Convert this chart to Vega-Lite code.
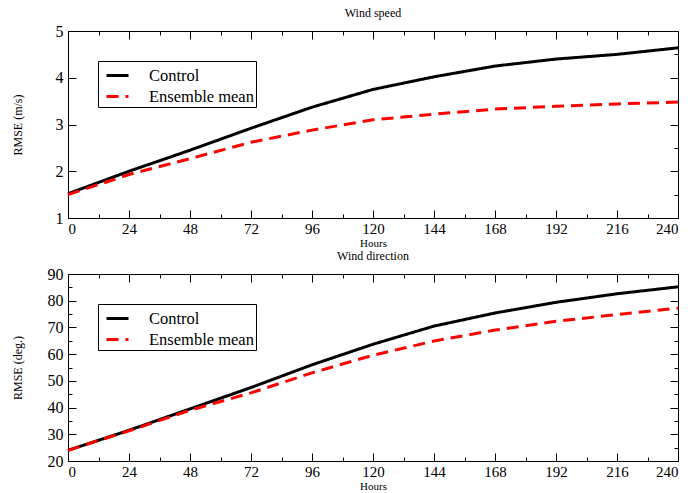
{
  "$schema": "https://vega.github.io/schema/vega-lite/v6.json",
  "autosize": {"type": "pad"},
  "padding": {"left": 10, "top": 6, "right": 0, "bottom": 2},
  "background": "white",
  "spacing": 56,
  "bounds": "flush",
  "config": {
    "font": "Liberation Serif",
    "view": {"stroke": "black", "strokeWidth": 1},
    "title": {"fontSize": 12, "fontWeight": "normal", "font": "Liberation Serif", "color": "black", "offset": 3},
    "axis": {
      "domain": false, "grid": false,
      "labelFont": "Liberation Serif", "labelFontSize": 16, "labelColor": "black",
      "titleFont": "Liberation Serif", "titleFontSize": 12, "titleFontWeight": "normal", "titleColor": "black",
      "tickColor": "black", "tickWidth": 1
    },
    "axisX": {"labelFontSize": 15, "titleFontSize": 11},
    "legend": {"labelFont": "Liberation Serif", "labelFontSize": 16.5, "labelColor": "black"}
  },
  "datasets": {
    "speed": [
      {"hours": 0, "series": "Control", "rmse": 1.52},
      {"hours": 24, "series": "Control", "rmse": 2.0},
      {"hours": 48, "series": "Control", "rmse": 2.45},
      {"hours": 72, "series": "Control", "rmse": 2.92},
      {"hours": 96, "series": "Control", "rmse": 3.37},
      {"hours": 120, "series": "Control", "rmse": 3.75},
      {"hours": 144, "series": "Control", "rmse": 4.02},
      {"hours": 168, "series": "Control", "rmse": 4.25},
      {"hours": 192, "series": "Control", "rmse": 4.4},
      {"hours": 216, "series": "Control", "rmse": 4.5},
      {"hours": 240, "series": "Control", "rmse": 4.64},
      {"hours": 0, "series": "Ensemble mean", "rmse": 1.5},
      {"hours": 24, "series": "Ensemble mean", "rmse": 1.93},
      {"hours": 48, "series": "Ensemble mean", "rmse": 2.27},
      {"hours": 72, "series": "Ensemble mean", "rmse": 2.62},
      {"hours": 96, "series": "Ensemble mean", "rmse": 2.88},
      {"hours": 120, "series": "Ensemble mean", "rmse": 3.1},
      {"hours": 144, "series": "Ensemble mean", "rmse": 3.22},
      {"hours": 168, "series": "Ensemble mean", "rmse": 3.33},
      {"hours": 192, "series": "Ensemble mean", "rmse": 3.39},
      {"hours": 216, "series": "Ensemble mean", "rmse": 3.44},
      {"hours": 240, "series": "Ensemble mean", "rmse": 3.48}
    ],
    "direction": [
      {"hours": 0, "series": "Control", "rmse": 24},
      {"hours": 24, "series": "Control", "rmse": 31.5},
      {"hours": 48, "series": "Control", "rmse": 39.5},
      {"hours": 72, "series": "Control", "rmse": 47.5},
      {"hours": 96, "series": "Control", "rmse": 56},
      {"hours": 120, "series": "Control", "rmse": 63.7},
      {"hours": 144, "series": "Control", "rmse": 70.5},
      {"hours": 168, "series": "Control", "rmse": 75.4},
      {"hours": 192, "series": "Control", "rmse": 79.4},
      {"hours": 216, "series": "Control", "rmse": 82.6},
      {"hours": 240, "series": "Control", "rmse": 85.2},
      {"hours": 0, "series": "Ensemble mean", "rmse": 24},
      {"hours": 24, "series": "Ensemble mean", "rmse": 31.3},
      {"hours": 48, "series": "Ensemble mean", "rmse": 39},
      {"hours": 72, "series": "Ensemble mean", "rmse": 45.5},
      {"hours": 96, "series": "Ensemble mean", "rmse": 53},
      {"hours": 120, "series": "Ensemble mean", "rmse": 59.6},
      {"hours": 144, "series": "Ensemble mean", "rmse": 64.9},
      {"hours": 168, "series": "Ensemble mean", "rmse": 69},
      {"hours": 192, "series": "Ensemble mean", "rmse": 72.3},
      {"hours": 216, "series": "Ensemble mean", "rmse": 74.8},
      {"hours": 240, "series": "Ensemble mean", "rmse": 77.2}
    ]
  },
  "vconcat": [
    {
      "title": "Wind speed",
      "width": 610,
      "height": 187,
      "data": {"name": "speed"},
      "resolve": {"axis": {"x": "independent", "y": "independent"}},
      "layer": [
        {
          "mark": {"type": "line", "strokeWidth": 3},
          "encoding": {
            "x": {"field": "hours", "type": "quantitative", "scale": {"domain": [0, 240], "nice": false},
              "axis": {"orient": "bottom", "title": "Hours", "titlePadding": 1, "format": "d",
                "values": [0,12,24,36,48,60,72,84,96,108,120,132,144,156,168,180,192,204,216,228,240],
                "labelExpr": "datum.value % 24 === 0 ? datum.label : ''",
                "tickSize": {"condition": {"test": "datum.value % 24 === 0", "value": -8}, "value": -4},
                "labelPadding": 11}},
            "y": {"field": "rmse", "type": "quantitative", "scale": {"domain": [1, 5], "nice": false},
              "axis": {"orient": "left", "title": "RMSE (m/s)", "titlePadding": 31, "format": "d",
                "values": [1,1.5,2,2.5,3,3.5,4,4.5,5],
                "labelExpr": "datum.value % 1 === 0 ? datum.label : ''",
                "tickSize": {"condition": {"test": "datum.value % 1 === 0", "value": -8}, "value": -4},
                "labelPadding": 13}},
            "color": {"field": "series", "type": "nominal",
              "scale": {"domain": ["Control", "Ensemble mean"], "range": ["black", "red"]},
              "legend": {"title": null, "orient": "none", "legendX": 30, "legendY": 30,
                "strokeColor": "black", "fillColor": "white", "padding": 2,
                "symbolType": "stroke", "symbolStrokeWidth": 3, "symbolSize": 484, "rowPadding": -4,
                "symbolOffset": 5, "labelOffset": 19}},
            "strokeDash": {"field": "series", "type": "nominal",
              "scale": {"domain": ["Control", "Ensemble mean"], "range": [[1, 0], [12, 7]]}, "legend": null}
          }
        },
        {
          "mark": {"type": "point", "opacity": 0},
          "encoding": {
            "x": {"field": "hours", "type": "quantitative",
              "axis": {"orient": "top", "title": null, "labels": false,
                "values": [0,12,24,36,48,60,72,84,96,108,120,132,144,156,168,180,192,204,216,228,240],
                "tickSize": {"condition": {"test": "datum.value % 24 === 0", "value": -8}, "value": -4}}},
            "y": {"field": "rmse", "type": "quantitative",
              "axis": {"orient": "right", "title": null, "labels": false,
                "values": [1,1.5,2,2.5,3,3.5,4,4.5,5],
                "tickSize": {"condition": {"test": "datum.value % 1 === 0", "value": -8}, "value": -4}}}
          }
        }
      ]
    },
    {
      "title": "Wind direction",
      "width": 610,
      "height": 187,
      "data": {"name": "direction"},
      "resolve": {"axis": {"x": "independent", "y": "independent"}},
      "layer": [
        {
          "mark": {"type": "line", "strokeWidth": 3},
          "encoding": {
            "x": {"field": "hours", "type": "quantitative", "scale": {"domain": [0, 240], "nice": false},
              "axis": {"orient": "bottom", "title": "Hours", "titlePadding": 1, "format": "d",
                "values": [0,12,24,36,48,60,72,84,96,108,120,132,144,156,168,180,192,204,216,228,240],
                "labelExpr": "datum.value % 24 === 0 ? datum.label : ''",
                "tickSize": {"condition": {"test": "datum.value % 24 === 0", "value": -8}, "value": -4},
                "labelPadding": 11}},
            "y": {"field": "rmse", "type": "quantitative", "scale": {"domain": [20, 90], "nice": false},
              "axis": {"orient": "left", "title": "RMSE (deg.)", "titlePadding": 23, "format": "d",
                "values": [20,25,30,35,40,45,50,55,60,65,70,75,80,85,90],
                "labelExpr": "datum.value % 10 === 0 ? datum.label : ''",
                "tickSize": {"condition": {"test": "datum.value % 10 === 0", "value": -8}, "value": -4},
                "labelPadding": 13}},
            "color": {"field": "series", "type": "nominal",
              "scale": {"domain": ["Control", "Ensemble mean"], "range": ["black", "red"]},
              "legend": {"title": null, "orient": "none", "legendX": 30, "legendY": 30,
                "strokeColor": "black", "fillColor": "white", "padding": 2,
                "symbolType": "stroke", "symbolStrokeWidth": 3, "symbolSize": 484, "rowPadding": -4,
                "symbolOffset": 5, "labelOffset": 19}},
            "strokeDash": {"field": "series", "type": "nominal",
              "scale": {"domain": ["Control", "Ensemble mean"], "range": [[1, 0], [12, 7]]}, "legend": null}
          }
        },
        {
          "mark": {"type": "point", "opacity": 0},
          "encoding": {
            "x": {"field": "hours", "type": "quantitative",
              "axis": {"orient": "top", "title": null, "labels": false,
                "values": [0,12,24,36,48,60,72,84,96,108,120,132,144,156,168,180,192,204,216,228,240],
                "tickSize": {"condition": {"test": "datum.value % 24 === 0", "value": -8}, "value": -4}}},
            "y": {"field": "rmse", "type": "quantitative",
              "axis": {"orient": "right", "title": null, "labels": false,
                "values": [20,25,30,35,40,45,50,55,60,65,70,75,80,85,90],
                "tickSize": {"condition": {"test": "datum.value % 10 === 0", "value": -8}, "value": -4}}}
          }
        }
      ]
    }
  ],
  "resolve": {"scale": {"color": "independent", "strokeDash": "independent"}}
}
